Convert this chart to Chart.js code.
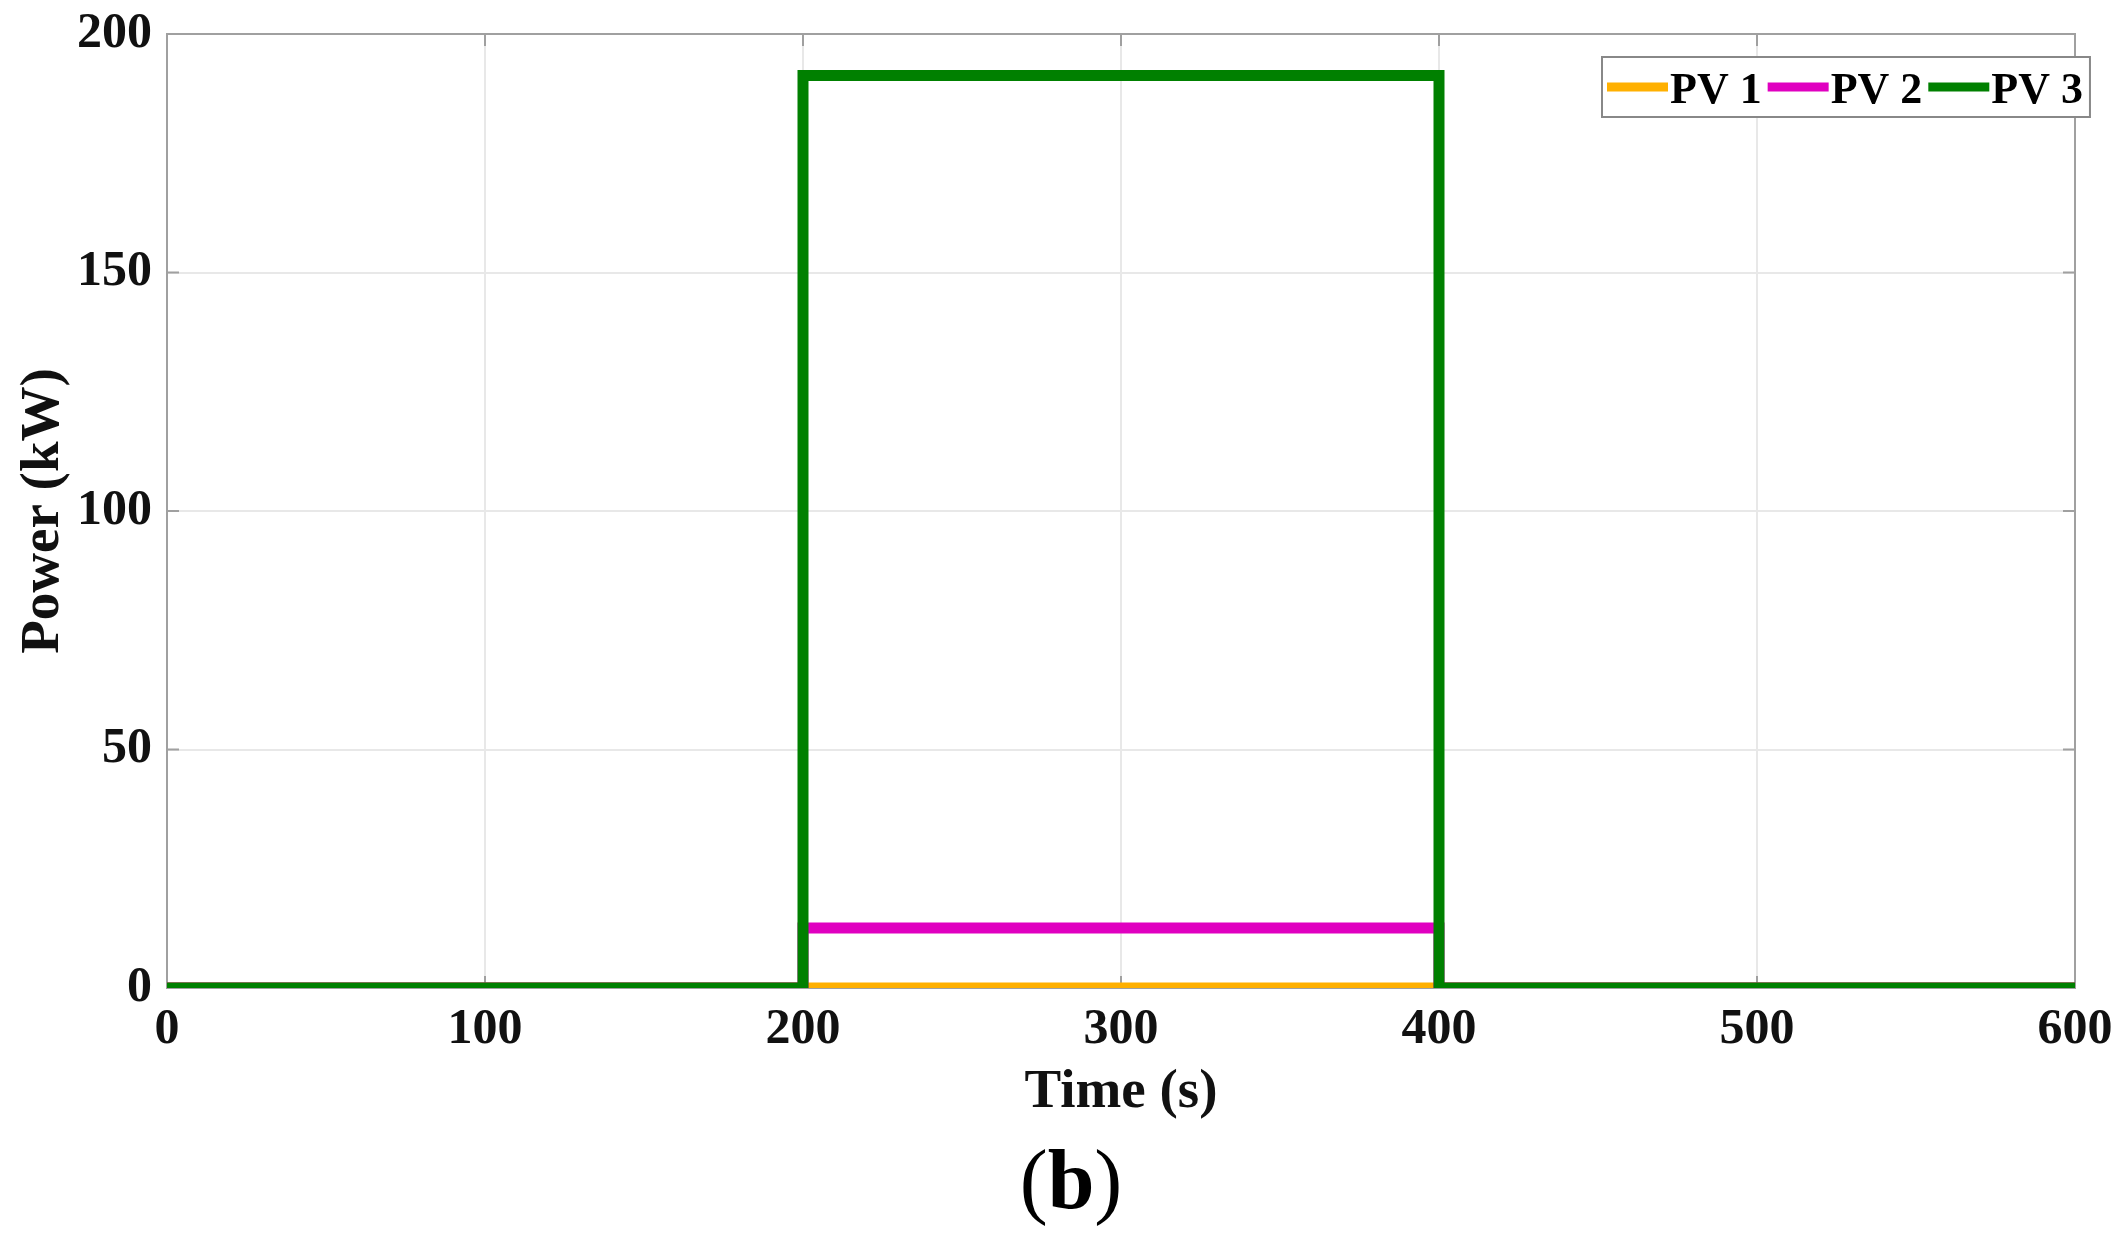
<!DOCTYPE html>
<html>
<head>
<meta charset="utf-8">
<script src="https://cdn.jsdelivr.net/npm/chart.js@4.4.0/dist/chart.umd.min.js"></script>
<style>
  html, body { margin: 0; padding: 0; background: #fff; }
</style>
</head>
<body>
<canvas id="chart" width="2125" height="1250"></canvas>
<script>
// step profiles
const time = [0, 200, 200, 400, 400, 600];
const pv1 = [0, 0, 0, 0, 0, 0];
const pv2 = [0, 0, 12.6, 12.6, 0, 0];
const pv3 = [0, 0, 191.3, 191.3, 0, 0];
const seriesNames = ["PV 1", "PV 2", "PV 3"];
const seriesColors = ["#ffb000", "#e000c0", "#008000"];
const xTicks = [0, 100, 200, 300, 400, 500, 600];
const yTicks = [0, 50, 100, 150, 200];

const serif = "'Liberation Serif', 'Times New Roman', serif";

function points(values) {
  return time.map((t, i) => ({ x: t, y: values[i] }));
}

// gray box round the plot area
const frame = {
  id: "frame",
  beforeDatasetsDraw(chart) {
    const { ctx, chartArea: a } = chart;
    ctx.save();
    ctx.strokeStyle = "#a0a0a0";
    ctx.lineWidth = 2;
    ctx.strokeRect(a.left, a.top, a.right - a.left, a.bottom - a.top);
    // small inward tick marks
    ctx.beginPath();
    const xs = chart.scales.x, ys = chart.scales.y;
    xTicks.forEach(v => {
      const px = xs.getPixelForValue(v);
      ctx.moveTo(px, a.bottom); ctx.lineTo(px, a.bottom - 12);
      ctx.moveTo(px, a.top); ctx.lineTo(px, a.top + 12);
    });
    yTicks.forEach(v => {
      const py = ys.getPixelForValue(v);
      ctx.moveTo(a.left, py); ctx.lineTo(a.left + 12, py);
      ctx.moveTo(a.right, py); ctx.lineTo(a.right - 12, py);
    });
    ctx.stroke();
    ctx.restore();
  }
};

// legend box inside the plot, in one row, like the original
const boxLegend = {
  id: "boxLegend",
  afterDraw(chart) {
    const { ctx, chartArea: a } = chart;
    const top = a.top + 23, h = 60;
    const left = 1602;
    ctx.save();
    ctx.font = "bold 44px " + serif;
    const sets = chart.data.datasets;
    let w = 5;
    sets.forEach((d, i) => {
      w += 63 + ctx.measureText(d.label).width + (i < sets.length - 1 ? 6 : 7);
    });
    ctx.fillStyle = "#fff";
    ctx.fillRect(left, top, w, h);
    ctx.strokeStyle = "#888";
    ctx.lineWidth = 2;
    ctx.strokeRect(left, top, w, h);
    let x = left + 5;
    const cy = top + h / 2;
    sets.forEach(d => {
      ctx.strokeStyle = d.borderColor;
      ctx.lineWidth = 9;
      ctx.beginPath();
      ctx.moveTo(x, cy); ctx.lineTo(x + 61, cy);
      ctx.stroke();
      x += 63;
      ctx.fillStyle = "#000";
      ctx.textBaseline = "alphabetic";
      ctx.fillText(d.label, x, cy + 16);
      x += ctx.measureText(d.label).width + 6;
    });
    ctx.restore();
  }
};

// "(b)" caption under the axis
const caption = {
  id: "caption",
  afterDraw(chart) {
    const ctx = chart.ctx;
    ctx.save();
    ctx.fillStyle = "#000";
    ctx.textBaseline = "alphabetic";
    const parts = [["(", "normal"], ["b", "bold"], [")", "normal"]];
    let total = 0;
    parts.forEach(p => { ctx.font = p[1] + " 84px " + serif; total += ctx.measureText(p[0]).width; });
    let x = 1071 - total / 2;
    parts.forEach(p => {
      ctx.font = p[1] + " 84px " + serif;
      ctx.fillText(p[0], x, 1208);
      x += ctx.measureText(p[0]).width;
    });
    ctx.restore();
  }
};

const values = [pv1, pv2, pv3];

new Chart(document.getElementById("chart"), {
  type: "line",
  data: {
    datasets: values.map((v, i) => ({
      label: seriesNames[i],
      data: points(v),
      borderColor: seriesColors[i],
      backgroundColor: seriesColors[i],
      borderWidth: 11,
      pointRadius: 0,
      tension: 0,
      borderCapStyle: "butt",
      borderJoinStyle: "miter",
      fill: false,
      order: values.length - i,
    })),
  },
  options: {
    responsive: false,
    animation: false,
    devicePixelRatio: 1,
    layout: { padding: { top: 34, right: 50, bottom: 130, left: 0 } },
    plugins: {
      legend: { display: false },
      tooltip: { enabled: false },
    },
    scales: {
      x: {
        type: "linear",
        min: 0,
        max: 600,
        afterBuildTicks: s => { s.ticks = xTicks.map(v => ({ value: v })); },
        afterFit: s => { s.height = 132; s.paddingLeft = 0; s.paddingRight = 0; },
        grid: { color: "#e8e8e8", lineWidth: 2, drawTicks: false },
        border: { display: false },
        ticks: {
          padding: 12,
          color: "#111",
          maxRotation: 0,
          font: { family: serif, size: 50, weight: "bold" },
        },
        title: {
          display: true,
          text: "Time (s)",
          color: "#111",
          padding: 0,
          font: { family: serif, size: 55, weight: "bold", lineHeight: 1 },
        },
      },
      y: {
        min: 0,
        max: 200,
        afterBuildTicks: s => { s.ticks = yTicks.map(v => ({ value: v })); },
        afterFit: s => { s.width = 167; s.paddingTop = 0; s.paddingBottom = 0; },
        grid: { color: "#e8e8e8", lineWidth: 2, drawTicks: false },
        border: { display: false },
        ticks: {
          padding: 15,
          color: "#111",
          font: { family: serif, size: 50, weight: "bold" },
        },
        title: {
          display: true,
          text: "Power (kW)",
          color: "#111",
          padding: { top: 16, bottom: 0 },
          font: { family: serif, size: 55, weight: "bold", lineHeight: 1 },
        },
      },
    },
  },
  plugins: [frame, boxLegend, caption],
});
</script>
</body>
</html>
